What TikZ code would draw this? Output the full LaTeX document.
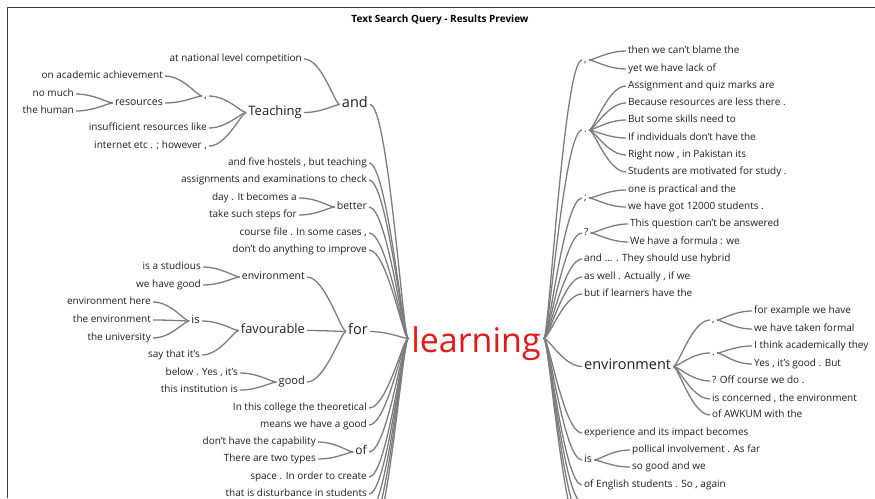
\documentclass[tikz,border=0pt]{standalone}
\usepackage{fontspec}
\setmainfont{Open Sans}
\definecolor{wtline}{RGB}{125,125,125}
\definecolor{wtred}{RGB}{228,24,24}
\definecolor{wtframe}{RGB}{60,60,60}
\definecolor{wttext}{RGB}{30,30,30}
\tikzset{
  leaf/.style={font=\fontsize{10}{12}\selectfont, inner sep=2pt, text=wttext, yshift=-2pt},
  hub/.style={font=\fontsize{14.5}{17}\selectfont, inner sep=2pt, text=wttext, yshift=-3.5pt},
  root/.style={font=\fontsize{34}{40}\selectfont, inner sep=3pt, text=wtred},
  branch/.style={draw=wtline, line width=1.3pt},
  % left side: child on the left, parent on the right
  lbr/.style={branch, to path={(\tikztostart.mid east) .. controls +(18,0) and +(-5,0) .. (\tikztotarget.mid west)}},
  % right side: parent on the left, child on the right
  rbr/.style={branch, to path={(\tikztostart.mid west) .. controls +(-18,0) and +(5,0) .. (\tikztotarget.mid east)}},
  lroot/.style={branch, to path={(\tikztostart.mid east) .. controls +(18,0) and +(-5,0) .. (\tikztotarget.176)}},
  rroot/.style={branch, to path={(\tikztostart.mid west) .. controls +(-18,0) and +(5,0) .. (\tikztotarget.4)}},
}
\begin{document}
\begin{tikzpicture}[x=1pt,y=-1pt]
  \useasboundingbox (0,0) rectangle (875,498);
  \clip (0,0) rectangle (875,498);
  \draw[wtframe, line width=1.2pt] (7.5,498) -- (7.5,7.5) -- (875,7.5);
  \node (title) at (440,20) [font=\fontsize{10}{12}\selectfont\bfseries] {Text Search Query - Results Preview};

  \node (learning) at (476,352) [root, anchor=base] {learning};

  % left of the root
  \node (and) at (370,101) [hub, anchor=mid east] {and} edge[lroot] (learning);
  \node (nat) at (304,57) [leaf, anchor=mid east] {at national level competition} edge[lbr] (and);
  \node (teach) at (304,109) [hub, font=\fontsize{13}{15}\selectfont, anchor=mid east] {Teaching} edge[lbr] (and);
  \node (tcomma) at (209,94) [leaf, anchor=mid east] {,} edge[lbr] (teach);
  \node (acad) at (165,74) [leaf, anchor=mid east] {on academic achievement} edge[lbr] (tcomma);
  \node (res) at (165,101) [leaf, font=\fontsize{10.5}{12}\selectfont, anchor=mid east] {resources} edge[lbr] (tcomma);
  \node (nomuch) at (76,92) [leaf, anchor=mid east] {no much} edge[lbr] (res);
  \node (human) at (76,109) [leaf, anchor=mid east] {the human} edge[lbr] (res);
  \node (insuf) at (209,126) [leaf, anchor=mid east] {insufficient resources like} edge[lbr] (teach);
  \node (inter) at (209,144) [leaf, anchor=mid east] {internet etc . ; however ,} edge[lbr] (teach);

  \node (hostel) at (369,161) [leaf, anchor=mid east] {and five hostels , but teaching} edge[lroot] (learning);
  \node (assign) at (369,178) [leaf, anchor=mid east] {assignments and examinations to check} edge[lroot] (learning);
  \node (better) at (369,205) [leaf, font=\fontsize{10.5}{12}\selectfont, anchor=mid east] {better} edge[lroot] (learning);
  \node (day) at (299,196) [leaf, anchor=mid east] {day . It becomes a} edge[lbr] (better);
  \node (steps) at (299,213) [leaf, anchor=mid east] {take such steps for} edge[lbr] (better);
  \node (course) at (369,231) [leaf, anchor=mid east] {course file . In some cases ,} edge[lroot] (learning);
  \node (improve) at (369,248) [leaf, anchor=mid east] {don't do anything to improve} edge[lroot] (learning);

  \node (for) at (370,328) [hub, anchor=mid east] {for} edge[lroot] (learning);
  \node (envL) at (307,275) [leaf, font=\fontsize{10.5}{12}\selectfont, anchor=mid east] {environment} edge[lbr] (for);
  \node (studious) at (203,265) [leaf, anchor=mid east] {is a studious} edge[lbr] (envL);
  \node (wegood) at (203,283) [leaf, anchor=mid east] {we have good} edge[lbr] (envL);
  \node (fav) at (307,327) [hub, font=\fontsize{12.8}{15}\selectfont, anchor=mid east] {favourable} edge[lbr] (for);
  \node (isL) at (202,319) [leaf, font=\fontsize{11.5}{13}\selectfont, anchor=mid east] {is} edge[lbr] (fav);
  \node (envhere) at (153,300) [leaf, anchor=mid east] {environment here} edge[lbr] (isL);
  \node (theenv) at (153,318) [leaf, anchor=mid east] {the environment} edge[lbr] (isL);
  \node (univ) at (153,336) [leaf, anchor=mid east] {the university} edge[lbr] (isL);
  \node (sayit) at (202,353) [leaf, anchor=mid east] {say that it's} edge[lbr] (fav);
  \node (good) at (307,380) [leaf, font=\fontsize{11}{13}\selectfont, anchor=mid east] {good} edge[lbr] (for);
  \node (below) at (240,371) [leaf, anchor=mid east] {below . Yes , it's} edge[lbr] (good);
  \node (instit) at (240,388) [leaf, anchor=mid east] {this institution is} edge[lbr] (good);

  \node (college) at (369,406) [leaf, anchor=mid east] {In this college the theoretical} edge[lroot] (learning);
  \node (means) at (369,423) [leaf, anchor=mid east] {means we have a good} edge[lroot] (learning);
  \node (of) at (369,450) [leaf, font=\fontsize{12}{14}\selectfont, anchor=mid east] {of} edge[lroot] (learning);
  \node (capab) at (318,440) [leaf, anchor=mid east] {don't have the capability} edge[lbr] (of);
  \node (types) at (318,457) [leaf, anchor=mid east] {There are two types} edge[lbr] (of);
  \node (space) at (369,475) [leaf, anchor=mid east] {space . In order to create} edge[lroot] (learning);
  \node (disturb) at (369,492) [leaf, anchor=mid east] {that is disturbance in students} edge[lroot] (learning);
  \node (moreL1) at (369,509) [leaf, anchor=mid east] {} edge[lroot] (learning);
  \node (moreL2) at (369,526) [leaf, anchor=mid east] {} edge[lroot] (learning);
  \node (moreL3) at (369,543) [leaf, anchor=mid east] {} edge[lroot] (learning);

  % right of the root
  \node (rcomma) at (582,58) [leaf, anchor=mid west] {,} edge[rroot] (learning);
  \node (blame) at (626,49) [leaf, anchor=mid west] {then we can't blame the} edge[rbr] (rcomma);
  \node (lack) at (626,67) [leaf, anchor=mid west] {yet we have lack of} edge[rbr] (rcomma);
  \node (rdot) at (582,128) [leaf, anchor=mid west] {.} edge[rroot] (learning);
  \node (quiz) at (626,84) [leaf, anchor=mid west] {Assignment and quiz marks are} edge[rbr] (rdot);
  \node (less) at (626,101) [leaf, anchor=mid west] {Because resources are less there .} edge[rbr] (rdot);
  \node (skills) at (626,118) [leaf, anchor=mid west] {But some skills need to} edge[rbr] (rdot);
  \node (indiv) at (626,136) [leaf, anchor=mid west] {If individuals don't have the} edge[rbr] (rdot);
  \node (pak) at (626,153) [leaf, anchor=mid west] {Right now , in Pakistan its} edge[rbr] (rdot);
  \node (motiv) at (626,170) [leaf, anchor=mid west] {Students are motivated for study .} edge[rbr] (rdot);
  \node (rsemi) at (582,196) [leaf, anchor=mid west] {;} edge[rroot] (learning);
  \node (pract) at (626,188) [leaf, anchor=mid west] {one is practical and the} edge[rbr] (rsemi);
  \node (twelve) at (626,205) [leaf, anchor=mid west] {we have got 12000 students .} edge[rbr] (rsemi);
  \node (rques) at (582,231) [leaf, anchor=mid west] {?} edge[rroot] (learning);
  \node (answ) at (628,222) [leaf, anchor=mid west] {This question can't be answered} edge[rbr] (rques);
  \node (formula) at (628,240) [leaf, anchor=mid west] {We have a formula : we} edge[rbr] (rques);
  \node (hybrid) at (582,257) [leaf, anchor=mid west] {and ... . They should use hybrid} edge[rroot] (learning);
  \node (actual) at (582,275) [leaf, anchor=mid west] {as well . Actually , if we} edge[rroot] (learning);
  \node (learners) at (582,292) [leaf, anchor=mid west] {but if learners have the} edge[rroot] (learning);

  \node (envR) at (582,363) [hub, anchor=mid west] {environment} edge[rroot] (learning);
  \node (ecomma) at (710,318) [leaf, anchor=mid west] {,} edge[rbr] (envR);
  \node (example) at (752,309) [leaf, anchor=mid west] {for example we have} edge[rbr] (ecomma);
  \node (formal) at (752,327) [leaf, anchor=mid west] {we have taken formal} edge[rbr] (ecomma);
  \node (edot) at (710,351) [leaf, anchor=mid west] {.} edge[rbr] (envR);
  \node (think) at (752,344) [leaf, anchor=mid west] {I think academically they} edge[rbr] (edot);
  \node (yes) at (752,362) [leaf, anchor=mid west] {Yes , it's good . But} edge[rbr] (edot);
  \node (offc) at (710,379) [leaf, anchor=mid west] {? Off course we do .} edge[rbr] (envR);
  \node (concern) at (710,397) [leaf, anchor=mid west] {is concerned , the environment} edge[rbr] (envR);
  \node (awkum) at (710,413) [leaf, anchor=mid west] {of AWKUM with the} edge[rbr] (envR);

  \node (exper) at (582,431) [leaf, anchor=mid west] {experience and its impact becomes} edge[rroot] (learning);
  \node (isR) at (582,458) [leaf, font=\fontsize{10.5}{12}\selectfont, anchor=mid west] {is} edge[rroot] (learning);
  \node (polit) at (630,448) [leaf, anchor=mid west] {pollical involvement . As far} edge[rbr] (isR);
  \node (sogood) at (630,465) [leaf, anchor=mid west] {so good and we} edge[rbr] (isR);
  \node (english) at (582,483) [leaf, anchor=mid west] {of English students . So , again} edge[rroot] (learning);
  \node (moreR1) at (582,500) [leaf, anchor=mid west] {} edge[rroot] (learning);
  \node (moreR2) at (582,517) [leaf, anchor=mid west] {} edge[rroot] (learning);
  \node (moreR3) at (582,534) [leaf, anchor=mid west] {} edge[rroot] (learning);
\end{tikzpicture}
\end{document}
